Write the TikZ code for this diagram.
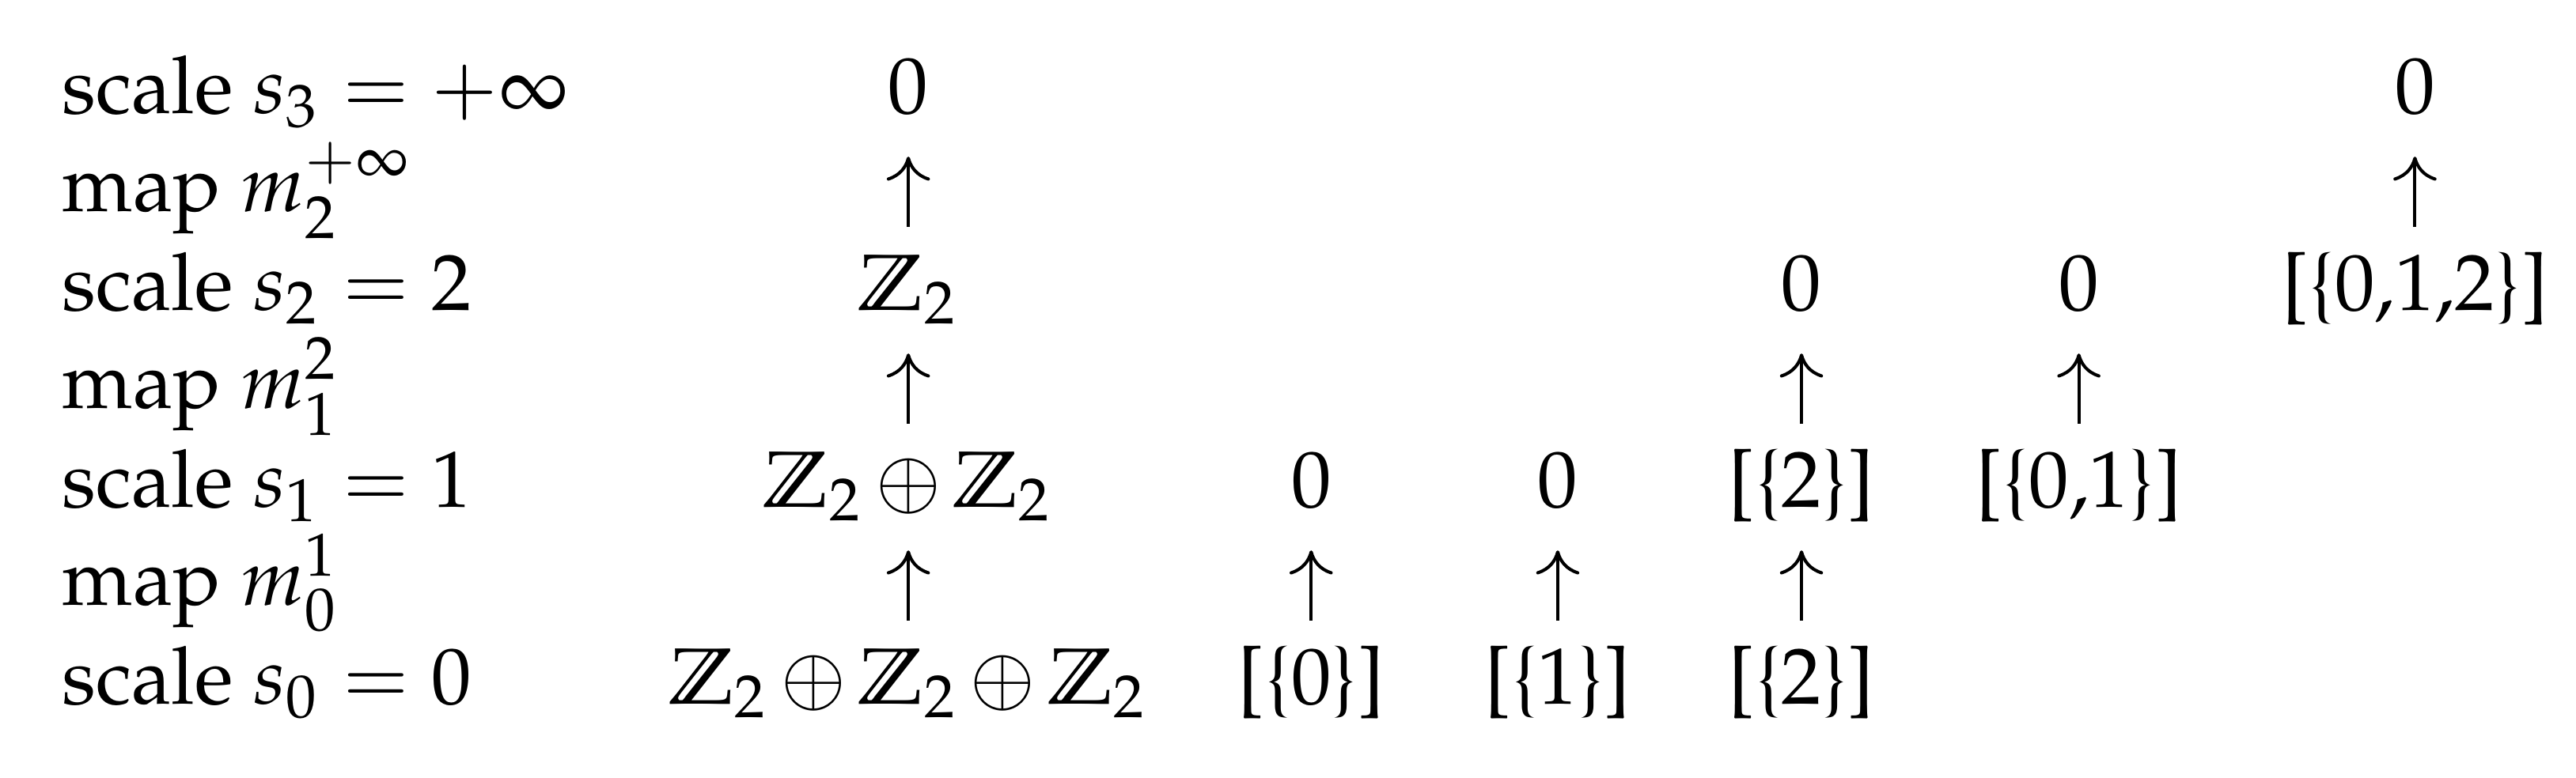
\documentclass[tikz,border=0pt]{standalone}
\usepackage[T1]{fontenc}
\usepackage{mathpazo}
\usepackage{amssymb}
\usetikzlibrary{arrows.meta}

\begin{document}
\begin{tikzpicture}[
x=1pt, y=1pt,
row label/.style = {anchor=base west, inner sep=0pt},
cell/.style = {anchor=base, inner sep=0pt, text height=7pt, text depth=2pt,
  execute at begin node={\medmuskip=2.5mu\relax}},
map arrow/.style = {->, shorten <=3.2pt, shorten >=3.25pt},
>={Computer Modern Rightarrow[length=3pt,width=5.4pt]},
]

\useasboundingbox (0,0) rectangle (322.3,97.4);

% row labels
\node (L3) [row label] at (7.6,83.24) {scale $s_3 = +\infty$};
\node (M2) [row label] at (7.6,70.92) {map $m_2^{+\infty}$};
\node (L2) [row label] at (7.6,58.59) {scale $s_2 = 2$};
\node (M1) [row label] at (7.6,46.27) {map $m_1^{2}$};
\node (L1) [row label] at (7.6,33.94) {scale $s_1 = 1$};
\node (M0) [row label] at (7.6,21.62) {map $m_0^{1}$};
\node (L0) [row label] at (7.6,9.29) {scale $s_0 = 0$};

% scale s_3
\node (s3a) [cell] at (113.65,83.24) {$0$};
\node (s3f) [cell] at (302.15,83.24) {$0$};

% scale s_2
\node (s2a) [cell] at (113.65,58.59) {$\mathbb{Z}_2$};
\node (s2d) [cell] at (225.4,58.59) {$0$};
\node (s2e) [cell] at (260.1,58.59) {$0$};
\node (s2f) [cell] at (302.15,58.59) {[\{0,1,2\}]};

% scale s_1
\node (s1a) [cell] at (113.65,33.94) {$\mathbb{Z}_2 \oplus \mathbb{Z}_2$};
\node (s1b) [cell] at (164.05,33.94) {$0$};
\node (s1c) [cell] at (194.9,33.94) {$0$};
\node (s1d) [cell] at (225.4,33.94) {[\{2\}]};
\node (s1e) [cell] at (260.1,33.94) {[\{0,1\}]};

% scale s_0
\node (s0a) [cell] at (113.65,9.29) {$\mathbb{Z}_2 \oplus \mathbb{Z}_2 \oplus \mathbb{Z}_2$};
\node (s0b) [cell] at (164.05,9.29) {[\{0\}]};
\node (s0c) [cell] at (194.9,9.29) {[\{1\}]};
\node (s0d) [cell] at (225.4,9.29) {[\{2\}]};

% maps
\draw[map arrow] (s2a.north) -- (s3a.south);
\draw[map arrow] (s2f.north) -- (s3f.south);

\draw[map arrow] (s1a.north) -- (s2a.south);
\draw[map arrow] (s1d.north) -- (s2d.south);
\draw[map arrow] (s1e.north) -- (s2e.south);

\draw[map arrow] (s0a.north) -- (s1a.south);
\draw[map arrow] (s0b.north) -- (s1b.south);
\draw[map arrow] (s0c.north) -- (s1c.south);
\draw[map arrow] (s0d.north) -- (s1d.south);

\end{tikzpicture}
\end{document}
